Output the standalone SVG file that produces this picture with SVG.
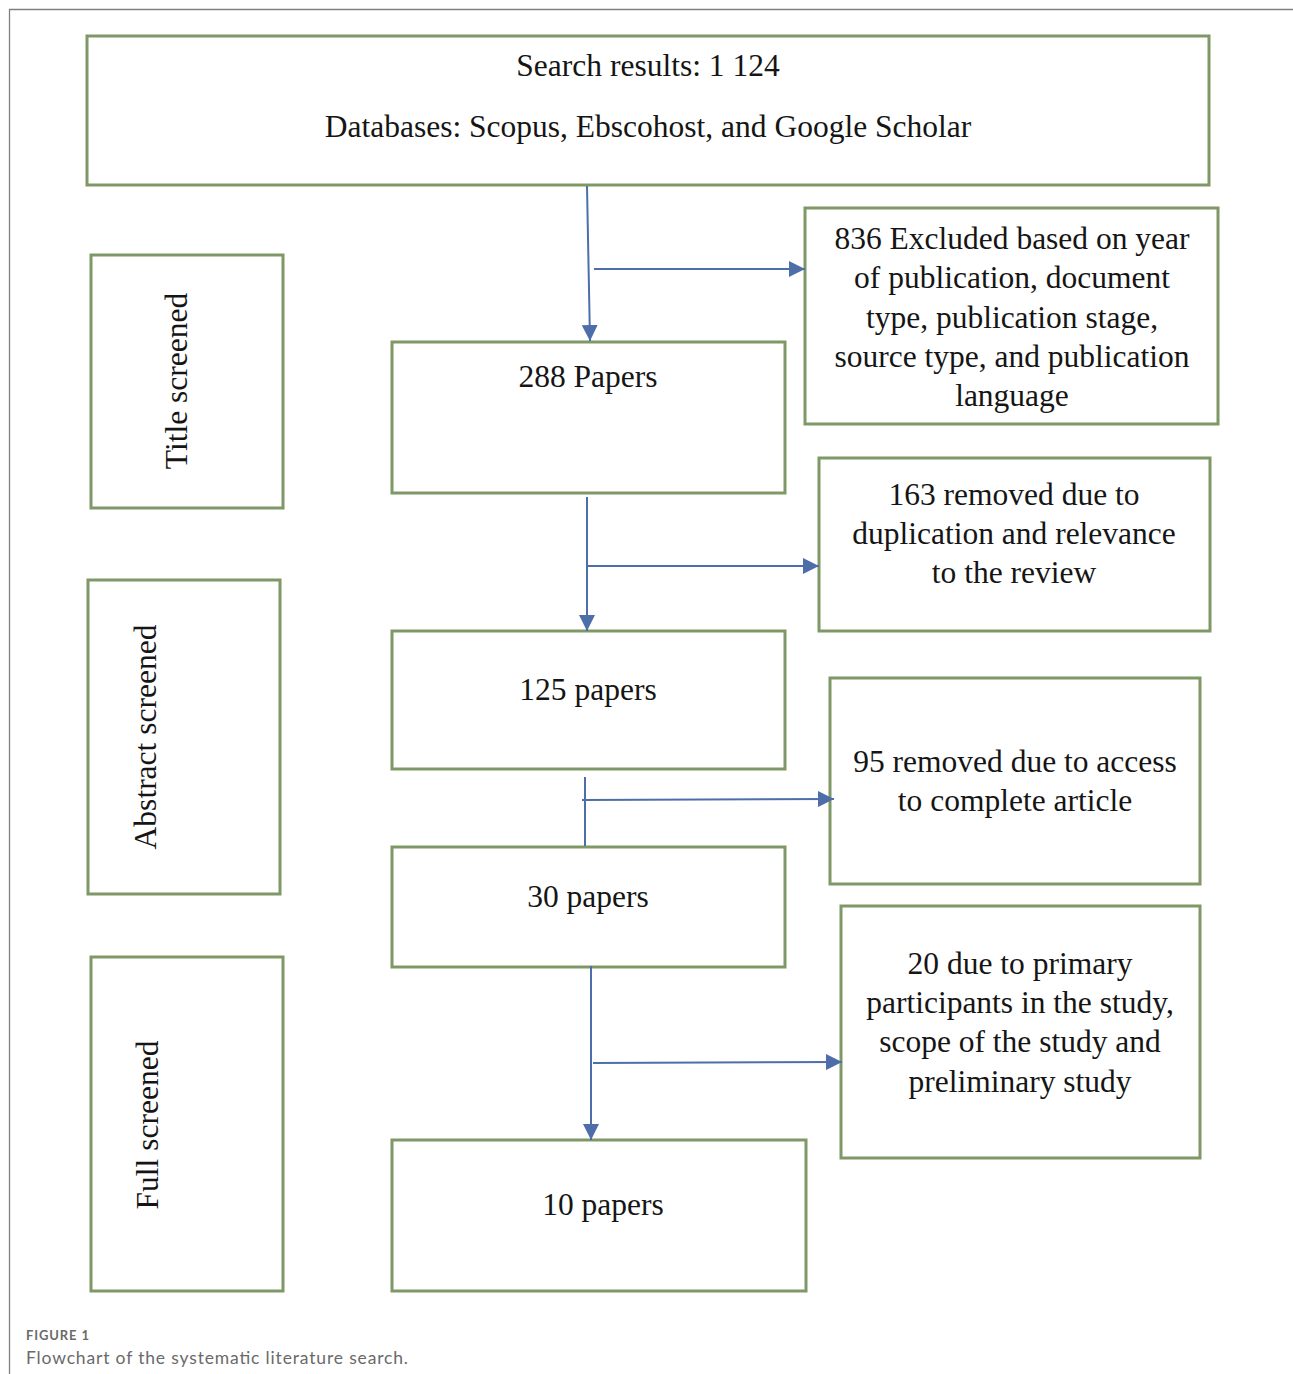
<svg xmlns="http://www.w3.org/2000/svg" width="1293" height="1374" viewBox="0 0 1293 1374">
<style>
.box{fill:#ffffff;stroke:#7e9866;stroke-width:3}
.t{font-family:"Liberation Serif","Times New Roman",serif;font-size:31.5px;fill:#151515;text-anchor:middle}
.c{fill:none;stroke:#4d6ea8;stroke-width:2}
.frame{fill:none;stroke:#808080;stroke-width:1.3}
.cap{font-family:Lato,"Open Sans","Liberation Sans",sans-serif;fill:#6a6a6a}
</style>
<defs>
<marker id="ah" viewBox="0 0 16 16" refX="16" refY="8" markerWidth="16" markerHeight="16" markerUnits="userSpaceOnUse" orient="auto">
<path d="M0,0 L16,8 L0,16 z" fill="#4d6ea8"/>
</marker>
</defs>
<rect width="1293" height="1374" fill="#ffffff"/>
<path class="frame" d="M9.5,1374 L9.5,9.5 L1293,9.5"/>

<g id="search">
<rect class="box" x="87" y="36" width="1122" height="149"/>
<text class="t" x="648" y="76">Search results: 1 124</text>
<text class="t" x="648" y="136.5">Databases: Scopus, Ebscohost, and Google Scholar</text>
</g>

<g id="title-screened">
<rect class="box" x="91" y="255" width="192" height="253"/>
<text class="t" transform="translate(187,381) rotate(-90)">Title screened</text>
</g>

<g id="abstract-screened">
<rect class="box" x="88" y="580" width="192" height="314"/>
<text class="t" transform="translate(156,737) rotate(-90)">Abstract screened</text>
</g>

<g id="full-screened">
<rect class="box" x="91" y="957" width="192" height="334"/>
<text class="t" transform="translate(158,1125) rotate(-90)">Full screened</text>
</g>

<g id="papers-288">
<rect class="box" x="392" y="342" width="393" height="151"/>
<text class="t" x="588" y="387">288 Papers</text>
</g>

<g id="excluded-836">
<rect class="box" x="805" y="208" width="413" height="216"/>
<text class="t" x="1012" y="248.5">836 Excluded based on year</text>
<text class="t" x="1012" y="288">of publication, document</text>
<text class="t" x="1012" y="327.5">type, publication stage,</text>
<text class="t" x="1012" y="367">source type, and publication</text>
<text class="t" x="1012" y="406">language</text>
</g>

<g id="removed-163">
<rect class="box" x="819" y="458" width="391" height="173"/>
<text class="t" x="1014" y="505">163 removed due to</text>
<text class="t" x="1014" y="544">duplication and relevance</text>
<text class="t" x="1014" y="583">to the review</text>
</g>

<g id="papers-125">
<rect class="box" x="392" y="631" width="393" height="138"/>
<text class="t" x="588" y="700">125 papers</text>
</g>

<g id="removed-95">
<rect class="box" x="830" y="678" width="370" height="206"/>
<text class="t" x="1015" y="772">95 removed due to access</text>
<text class="t" x="1015" y="811">to complete article</text>
</g>

<g id="papers-30">
<rect class="box" x="392" y="847" width="393" height="120"/>
<text class="t" x="588" y="907">30 papers</text>
</g>

<g id="removed-20">
<rect class="box" x="841" y="906" width="359" height="252"/>
<text class="t" x="1020" y="974">20 due to primary</text>
<text class="t" x="1020" y="1013">participants in the study,</text>
<text class="t" x="1020" y="1052">scope of the study and</text>
<text class="t" x="1020" y="1092">preliminary study</text>
</g>

<g id="papers-10">
<rect class="box" x="392" y="1140" width="414" height="151"/>
<text class="t" x="603" y="1215">10 papers</text>
</g>

<g id="connectors">
<path class="c" d="M587,186 L590,341" marker-end="url(#ah)"/>
<path class="c" d="M594,269 L805,269" marker-end="url(#ah)"/>
<path class="c" d="M587,497 L587,631" marker-end="url(#ah)"/>
<path class="c" d="M587,566 L819,566" marker-end="url(#ah)"/>
<path class="c" d="M585,777 L585,846"/>
<path class="c" d="M582,800 L834,799" marker-end="url(#ah)"/>
<path class="c" d="M591,966 L591,1140" marker-end="url(#ah)"/>
<path class="c" d="M593,1063 L842,1062" marker-end="url(#ah)"/>
</g>

<g id="caption">
<text class="cap" x="26" y="1340" font-size="13" font-weight="bold" textLength="63">FIGURE 1</text>
<text class="cap" x="26" y="1364" font-size="17.5" textLength="382">Flowchart of the systematic literature search.</text>
</g>
</svg>
